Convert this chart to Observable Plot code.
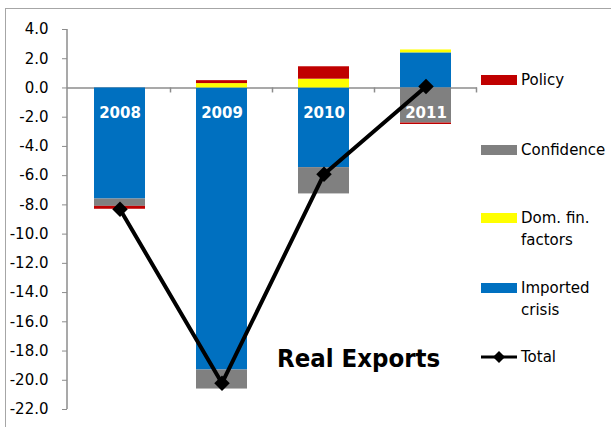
<!DOCTYPE html>
<html><head><meta charset="utf-8">
<script src="https://cdn.jsdelivr.net/npm/d3@7"></script>
<script src="https://cdn.jsdelivr.net/npm/@observablehq/plot@0.6"></script>
<style>
html,body{margin:0;padding:0;background:#fff;}
#wrap{position:relative;width:611px;height:427px;overflow:hidden;font-family:"DejaVu Sans",sans-serif;}
#wrap svg{position:absolute;left:0;top:0;}
#frame{position:absolute;left:5px;top:8px;width:640px;height:460px;border:1px solid #a6a6a6;box-sizing:border-box;}
.lg{position:absolute;left:521px;font-size:15px;color:#000;line-height:22px;white-space:nowrap;}
.sw{position:absolute;left:481px;width:36px;height:10px;}
#title{position:absolute;left:277px;top:343px;font-family:"DejaVu Sans Condensed","DejaVu Sans",sans-serif;font-weight:bold;font-size:25.5px;color:#000;white-space:nowrap;}
</style></head><body><div id="wrap"><div id="frame"></div></div>
<script>
const years = ["2008", "2009", "2010", "2011"];
const seriesNames = ["Imported crisis", "Dom. fin. factors", "Confidence", "Policy"];
const seriesColors = ["#0070C0", "#FFFF00", "#808080", "#C00000"];
const importedCrisis = [-7.6, -19.3, -5.45, 2.4];
const domFinFactors = [0.0, 0.3, 0.6, 0.2];
const confidence = [-0.5, -1.3, -1.8, -2.4];
const policy = [-0.2, 0.2, 0.85, -0.1];
const total = [-8.3, -20.2, -5.9, 0.1];
const yTicks = [4, 2, 0, -2, -4, -6, -8, -10, -12, -14, -16, -18, -20, -22];

const seriesValues = [importedCrisis, domFinFactors, confidence, policy];
const data = years.flatMap((yr, i) => seriesNames.map((s, k) => ({year: yr, series: s, value: seriesValues[k][i]})));
const totals = years.map((yr, i) => ({year: yr, value: total[i]}));

const plot = Plot.plot({
  width: 611, height: 427,
  marginLeft: 67, marginRight: 134, marginTop: 29, marginBottom: 18,
  style: {fontFamily: "DejaVu Sans", fontSize: "15px", background: "transparent", color: "#000"},
  x: {domain: years, paddingInner: 0.5, paddingOuter: 0.25, axis: null},
  y: {domain: [-22, 4], axis: null},
  color: {domain: seriesNames, range: seriesColors},
  marks: [
    Plot.ruleY([0], {stroke: "#8c8c8c", strokeWidth: 1.5}),
    Plot.axisY({ticks: yTicks, tickFormat: d => d.toFixed(1), tickSize: 5, tickPadding: 14, stroke: "#8c8c8c", fill: "#000", fontSize: 15, label: null}),
    Plot.barY(data, {x: "year", y: "value", fill: "series", order: seriesNames}),
    Plot.text(years, {x: d => d, y: 0, dy: 25, text: d => d, fill: "white", fontWeight: "bold", fontSize: 15}),
    Plot.line(totals, {x: "year", y: "value", stroke: "black", strokeWidth: 4}),
    Plot.dot(totals, {x: "year", y: "value", symbol: "diamond2", r: 7, fill: "black", stroke: "none"})
  ]
});

const wrap = document.getElementById("wrap");
wrap.appendChild(plot);

// axis lines
const svg = d3.select(plot);
const xs = plot.scale("x"), ys = plot.scale("y");
const gap = (xs.step - xs.bandwidth) / 2;
const y0 = ys.apply(0);
const g = svg.append("g").attr("stroke", "#8c8c8c").attr("stroke-width", 1.5);
g.append("line").attr("x1", 67).attr("x2", 67).attr("y1", ys.apply(4)).attr("y2", ys.apply(-22));
years.forEach(yr => {
  const xb = xs.apply(yr) + xs.bandwidth + gap;
  g.append("line").attr("x1", xb).attr("x2", xb).attr("y1", y0).attr("y2", y0 + 5);
});

// legend
const legendItems = [
  {label: "Policy", color: "#C00000", top: 75},
  {label: "Confidence", color: "#808080", top: 145},
  {label: "Dom. fin.<br>factors", color: "#FFFF00", top: 213},
  {label: "Imported<br>crisis", color: "#0070C0", top: 283}
];
legendItems.forEach(it => {
  const sw = document.createElement("div");
  sw.className = "sw"; sw.style.top = it.top + "px"; sw.style.background = it.color;
  wrap.appendChild(sw);
  const tx = document.createElement("div");
  tx.className = "lg"; tx.style.top = (it.top - 6) + "px"; tx.innerHTML = it.label;
  wrap.appendChild(tx);
});
const lsvg = d3.select(wrap).append("svg").attr("width", 611).attr("height", 427).style("pointer-events", "none");
lsvg.append("line").attr("x1", 481).attr("x2", 517).attr("y1", 357).attr("y2", 357).attr("stroke", "black").attr("stroke-width", 3);
lsvg.append("path").attr("d", "M499,351L505,357L499,363L493,357Z").attr("fill", "black");
const tt = document.createElement("div");
tt.className = "lg"; tt.style.top = "346px"; tt.textContent = "Total";
wrap.appendChild(tt);

const title = document.createElement("div");
title.id = "title"; title.textContent = "Real Exports";
wrap.appendChild(title);
</script></body></html>
